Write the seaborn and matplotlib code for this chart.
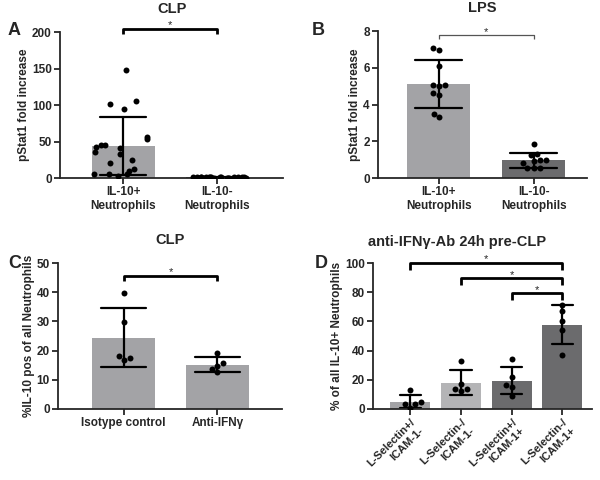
import numpy as np
import pandas as pd
import matplotlib
matplotlib.use("Agg")
import matplotlib.pyplot as plt
import seaborn as sns

# ---------------------------------------------------------------------
# Dados
# ---------------------------------------------------------------------

# Painel A - CLP
a_grupos = ["IL-10+\nNeutrophils", "IL-10-\nNeutrophils"]
a_il10_pos = [148, 105, 102, 95, 56, 54, 46, 45, 42, 41, 36, 33, 25, 20, 12, 10, 6, 5, 5, 3]
a_il10_neg = [0.3, 0.5, 0.6, 0.8, 0.9, 1.0, 1.1, 1.2, 1.3, 1.5,
              0.4, 0.7, 1.0, 1.4, 1.8, 2.0, 0.6, 0.9, 1.2, 1.1]

# Painel B - LPS
b_grupos = ["IL-10+\nNeutrophils", "IL-10-\nNeutrophils"]
b_il10_pos = [7.1, 7.0, 6.1, 5.05, 5.05, 5.0, 4.65, 4.5, 3.3, 3.5]
b_il10_neg = [1.85, 1.25, 1.3, 1.0, 1.0, 0.8, 0.95, 0.55, 0.55, 0.55]

# Painel C - CLP
c_grupos = ["Isotype control", "Anti-IFN\u03b3"]
c_isotipo = [39.6, 29.9, 18.3, 16.8, 17.6]
c_anti = [19.1, 15.6, 14.8, 13.7, 12.6]

# Painel D - anti-IFNγ-Ab 24h pre-CLP
d_grupos = ["L-Selectin+/\nICAM-1-", "L-Selectin-/\nICAM-1-",
            "L-Selectin+/\nICAM-1+", "L-Selectin-/\nICAM-1+"]
d_sel_pos_icam_neg = [13.0, 4.5, 3.2, 3.4, 1.0]
d_sel_neg_icam_neg = [32.9, 17.1, 12.6, 13.9, 13.6]
d_sel_pos_icam_pos = [34.0, 22.0, 16.4, 15.2, 9.1]
d_sel_neg_icam_pos = [71.4, 67.0, 60.0, 54.0, 37.0]

CINZA_CLARO = "#a3a3a6"
CINZA_MAIS_CLARO = "#b4b4b6"
CINZA_ESCURO = "#6b6b6d"


def monta_df(grupos, series):
    return pd.DataFrame({
        "grupo": np.repeat(grupos, [len(s) for s in series]),
        "valor": np.concatenate(series),
    })


def painel(ax, df, grupos, cores, largura, capsize, pontos, yticks, ylabel, xlim):
    sns.barplot(data=df, x="grupo", y="valor", hue="grupo", order=grupos,
                hue_order=grupos, palette=cores, legend=False, ax=ax,
                width=largura, errorbar="sd", capsize=capsize, linewidth=0,
                err_kws={"color": "black", "linewidth": 1.6}, zorder=1)
    if pontos == "strip":
        sns.stripplot(data=df, x="grupo", y="valor", order=grupos, ax=ax,
                      color="black", size=4.3, jitter=0.32, zorder=3)
    else:
        sns.swarmplot(data=df, x="grupo", y="valor", order=grupos, ax=ax,
                      color="black", size=4.3, zorder=3)
    ax.set_ylim(yticks[0], yticks[-1])
    ax.set_yticks(yticks)
    ax.set_xlim(*xlim)
    ax.set_xlabel("")
    ax.set_ylabel(ylabel, fontsize=8.5, fontweight="bold", labelpad=1.5)
    for s in ["top", "right"]:
        ax.spines[s].set_visible(False)
    for s in ["left", "bottom"]:
        ax.spines[s].set_linewidth(1.3)
    ax.tick_params(axis="both", direction="out", width=1.3, length=4,
                   labelsize=8.5, pad=2)
    for t in ax.get_xticklabels() + ax.get_yticklabels():
        t.set_fontweight("bold")


def colchete(ax, i, j, y, perna, grosso=True):
    cor = "black" if grosso else "#555555"
    lw = 2.0 if grosso else 0.9
    ax.plot([i, i, j, j], [y - perna, y, y, y - perna], color=cor, lw=lw,
            clip_on=False, solid_capstyle="butt", zorder=5)
    ax.annotate("*", ((i + j) / 2, y), xytext=(0, 0.5), textcoords="offset points",
                ha="center", va="baseline", fontsize=8, annotation_clip=False)


sns.set_theme(style="ticks")
plt.rcParams["font.family"] = ["Liberation Sans", "DejaVu Sans"]
np.random.seed(3)

fig = plt.figure(figsize=(6, 4.8), dpi=100)
ax_a = fig.add_axes([0.100, 0.629, 0.372, 0.304])
ax_b = fig.add_axes([0.630, 0.629, 0.348, 0.306])
ax_c = fig.add_axes([0.097, 0.148, 0.373, 0.304])
ax_d = fig.add_axes([0.622, 0.148, 0.365, 0.304])

# A
painel(ax_a, monta_df(a_grupos, [a_il10_pos, a_il10_neg]), a_grupos,
       [CINZA_CLARO, CINZA_ESCURO], 0.67, 0.48, "strip",
       [0, 50, 100, 150, 200], "pStat1 fold increase", (-0.67, 1.70))
ax_a.set_title("CLP", fontsize=10.5, fontweight="bold", pad=14)
colchete(ax_a, 0, 1, 205, 7)

# B
painel(ax_b, monta_df(b_grupos, [b_il10_pos, b_il10_neg]), b_grupos,
       [CINZA_CLARO, CINZA_ESCURO], 0.66, 0.5, "swarm",
       [0, 2, 4, 6, 8], "pStat1 fold increase", (-0.64, 1.56))
ax_b.set_title("LPS", fontsize=10.5, fontweight="bold", pad=14)
colchete(ax_b, 0, 1, 7.77, 0.17, grosso=False)

# C
painel(ax_c, monta_df(c_grupos, [c_isotipo, c_anti]), c_grupos,
       [CINZA_CLARO, CINZA_CLARO], 0.67, 0.48, "swarm",
       [0, 10, 20, 30, 40, 50], "%IL-10 pos of all Neutrophils", (-0.70, 1.69))
ax_c.set_title("CLP", fontsize=10.5, fontweight="bold", pad=14)
colchete(ax_c, 0, 1, 45.5, 1.8)

# D
painel(ax_d, monta_df(d_grupos, [d_sel_pos_icam_neg, d_sel_neg_icam_neg,
                                 d_sel_pos_icam_pos, d_sel_neg_icam_pos]),
       d_grupos, [CINZA_CLARO, CINZA_MAIS_CLARO, CINZA_ESCURO, CINZA_ESCURO],
       0.79, 0.42, "swarm", [0, 20, 40, 60, 80, 100],
       "% of all IL-10+ Neutrophils", (-0.73, 3.59))
ax_d.set_title("anti-IFN\u03b3-Ab 24h pre-CLP", fontsize=10.5, fontweight="bold",
               pad=12, x=0.384)
plt.setp(ax_d.get_xticklabels(), rotation=45, ha="right",
         rotation_mode="anchor", fontsize=8)
colchete(ax_d, 0, 3, 100, 4.5)
colchete(ax_d, 1, 3, 89.5, 4.5)
colchete(ax_d, 2, 3, 79.2, 4.5)

# letras dos painéis
for letra, (x, y) in zip("ABCD", [(0.013, 0.937), (0.52, 0.937),
                                  (0.013, 0.452), (0.525, 0.452)]):
    fig.text(x, y, letra, fontsize=13, fontweight="bold", va="center")

fig.savefig("out.png", dpi=100)
